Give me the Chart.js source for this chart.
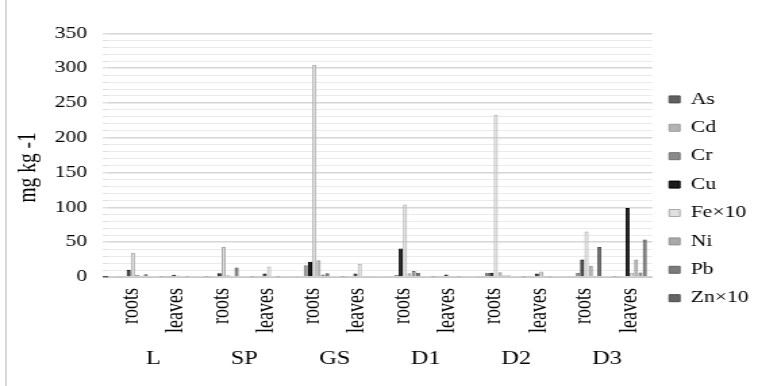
<!DOCTYPE html>
<html>
<head>
<meta charset="utf-8">
<script src="https://cdn.jsdelivr.net/npm/chart.js@4.4.1/dist/chart.umd.min.js"></script>
<style>
  html, body { margin: 0; padding: 0; background: #fff; overflow: hidden; }
  #frame { position: absolute; left: 5px; top: 0; width: 2px; height: 386px; background: #d9d9d9; }
  #wrap { position: absolute; left: 0; top: 0; width: 561px; height: 386px; transform: scaleX(1.3512); transform-origin: 0 0; }
</style>
</head>
<body>
<div id="frame"></div>
<div id="wrap"><canvas id="grafico"></canvas></div>
<script>
// categorias (parte da planta) e locais
const partes = ['roots', 'leaves', 'roots', 'leaves', 'roots', 'leaves', 'roots', 'leaves', 'roots', 'leaves', 'roots', 'leaves'];
const locais = ['L', 'SP', 'GS', 'D1', 'D2', 'D3'];
const elementos = ['As', 'Cd', 'Cr', 'Cu', 'Fe×10', 'Ni', 'Pb', 'Zn×10'];

// valores em mg kg-1
const valAs = [0.6, 0.3, 0.5, 0.3, 0.8, 0.3, 0.7, 0.3, 0.6, 0.3, 0.8, 0.5];
const valCd = [0.4, 0.2, 0.5, 0.2, 1.2, 0.3, 0.8, 0.2, 0.5, 0.2, 0.6, 0.4];
const valCr = [1.5, 0.5, 1.2, 0.8, 17, 1, 3, 0.6, 6, 0.7, 6, 1.2];
const valCu = [10.5, 3.2, 5.5, 5, 22, 5, 41, 3.5, 6, 5, 25, 99];
const valFe = [35, 2, 43, 15, 305, 19, 104, 1.5, 233, 8, 65.5, 6];
const valNi = [3, 1, 2.5, 1.2, 24, 1.5, 5.5, 0.8, 7, 1.5, 16, 25];
const valPb = [1.5, 0.5, 1.2, 0.5, 3.5, 0.6, 8.5, 0.5, 2, 0.5, 1.5, 6.5];
const valZn = [4, 1.2, 13.5, 1.2, 5.5, 1.5, 6, 0.8, 2, 1, 43, 54];

const yTicks = [0, 50, 100, 150, 200, 250, 300, 350];

const serie = [valAs, valCd, valCr, valCu, valFe, valNi, valPb, valZn];
const cores = ['#5f5f5f', '#b4b4b4', '#8a8a8a', '#1c1c1c', '#e0e0e0', '#a9a9a9', '#7c7c7c', '#646464'];
const bordas = ['#4a4a4a', '#9a9a9a', '#707070', '#000000', '#a8a8a8', '#8e8e8e', '#636363', '#4c4c4c'];

const fonte = "'Liberation Serif', 'Times New Roman', serif";

const datasets = elementos.map((nome, i) => ({
  label: nome,
  data: serie[i],
  backgroundColor: cores[i],
  borderColor: bordas[i],
  borderWidth: 1,
  categoryPercentage: 0.76,
  barPercentage: 0.95
}));

const ctx = document.getElementById('grafico').getContext('2d');
new Chart(ctx, {
  type: 'bar',
  data: { labels: partes, datasets },
  options: {
    responsive: true,
    maintainAspectRatio: false,
    animation: false,
    layout: { padding: { left: 6, right: -3, top: 33.3, bottom: 21.7 } },
    scales: {
      x: {
        weight: 1,
        afterFit: s => { s.height = 56; },
        grid: { display: false, drawTicks: false },
        border: { display: true, color: '#c8c8c8' },
        ticks: {
          autoSkip: false,
          minRotation: 90,
          maxRotation: 90,
          padding: 11,
          color: '#000',
          font: { family: fonte, size: 18 }
        }
      },
      x2: {
        type: 'category',
        labels: locais,
        position: 'bottom',
        offset: true,
        weight: 2,
        afterFit: s => { s.height = 31.3; },
        grid: { display: false, drawTicks: false },
        border: { display: false },
        ticks: {
          maxRotation: 0,
          padding: 15.7,
          color: '#000',
          font: { family: fonte, size: 18 }
        }
      },
      y: {
        min: 0,
        max: 350,
        afterFit: s => { s.width = 74; },
        border: { display: false },
        grid: {
          tickLength: 4,
          color: c => (c.tick && c.tick.value % 50 === 0) ? '#d6d6d6' : '#ebebeb',
          tickColor: c => (c.tick && c.tick.value === 0) ? '#555' : '#e0e0e0',
          lineWidth: c => (c.tick && c.tick.value % 50 === 0) ? 1.5 : 1
        },
        ticks: {
          stepSize: 10,
          autoSkip: false,
          padding: 11.6,
          color: '#000',
          font: { family: fonte, size: 16 },
          callback: v => yTicks.includes(v) ? String(v) : ''
        },
        title: {
          display: true,
          text: 'mg kg -1     ',
          color: '#000',
          font: { family: fonte, size: 19.5 },
          padding: { top: 3.5, bottom: 8 }
        }
      }
    },
    plugins: {
      legend: {
        position: 'right',
        labels: {
          boxWidth: 8,
          boxHeight: 7,
          padding: 12.4,
          color: '#000',
          font: { family: fonte, size: 16 }
        }
      },
      tooltip: { enabled: false }
    }
  }
});
</script>
</body>
</html>
